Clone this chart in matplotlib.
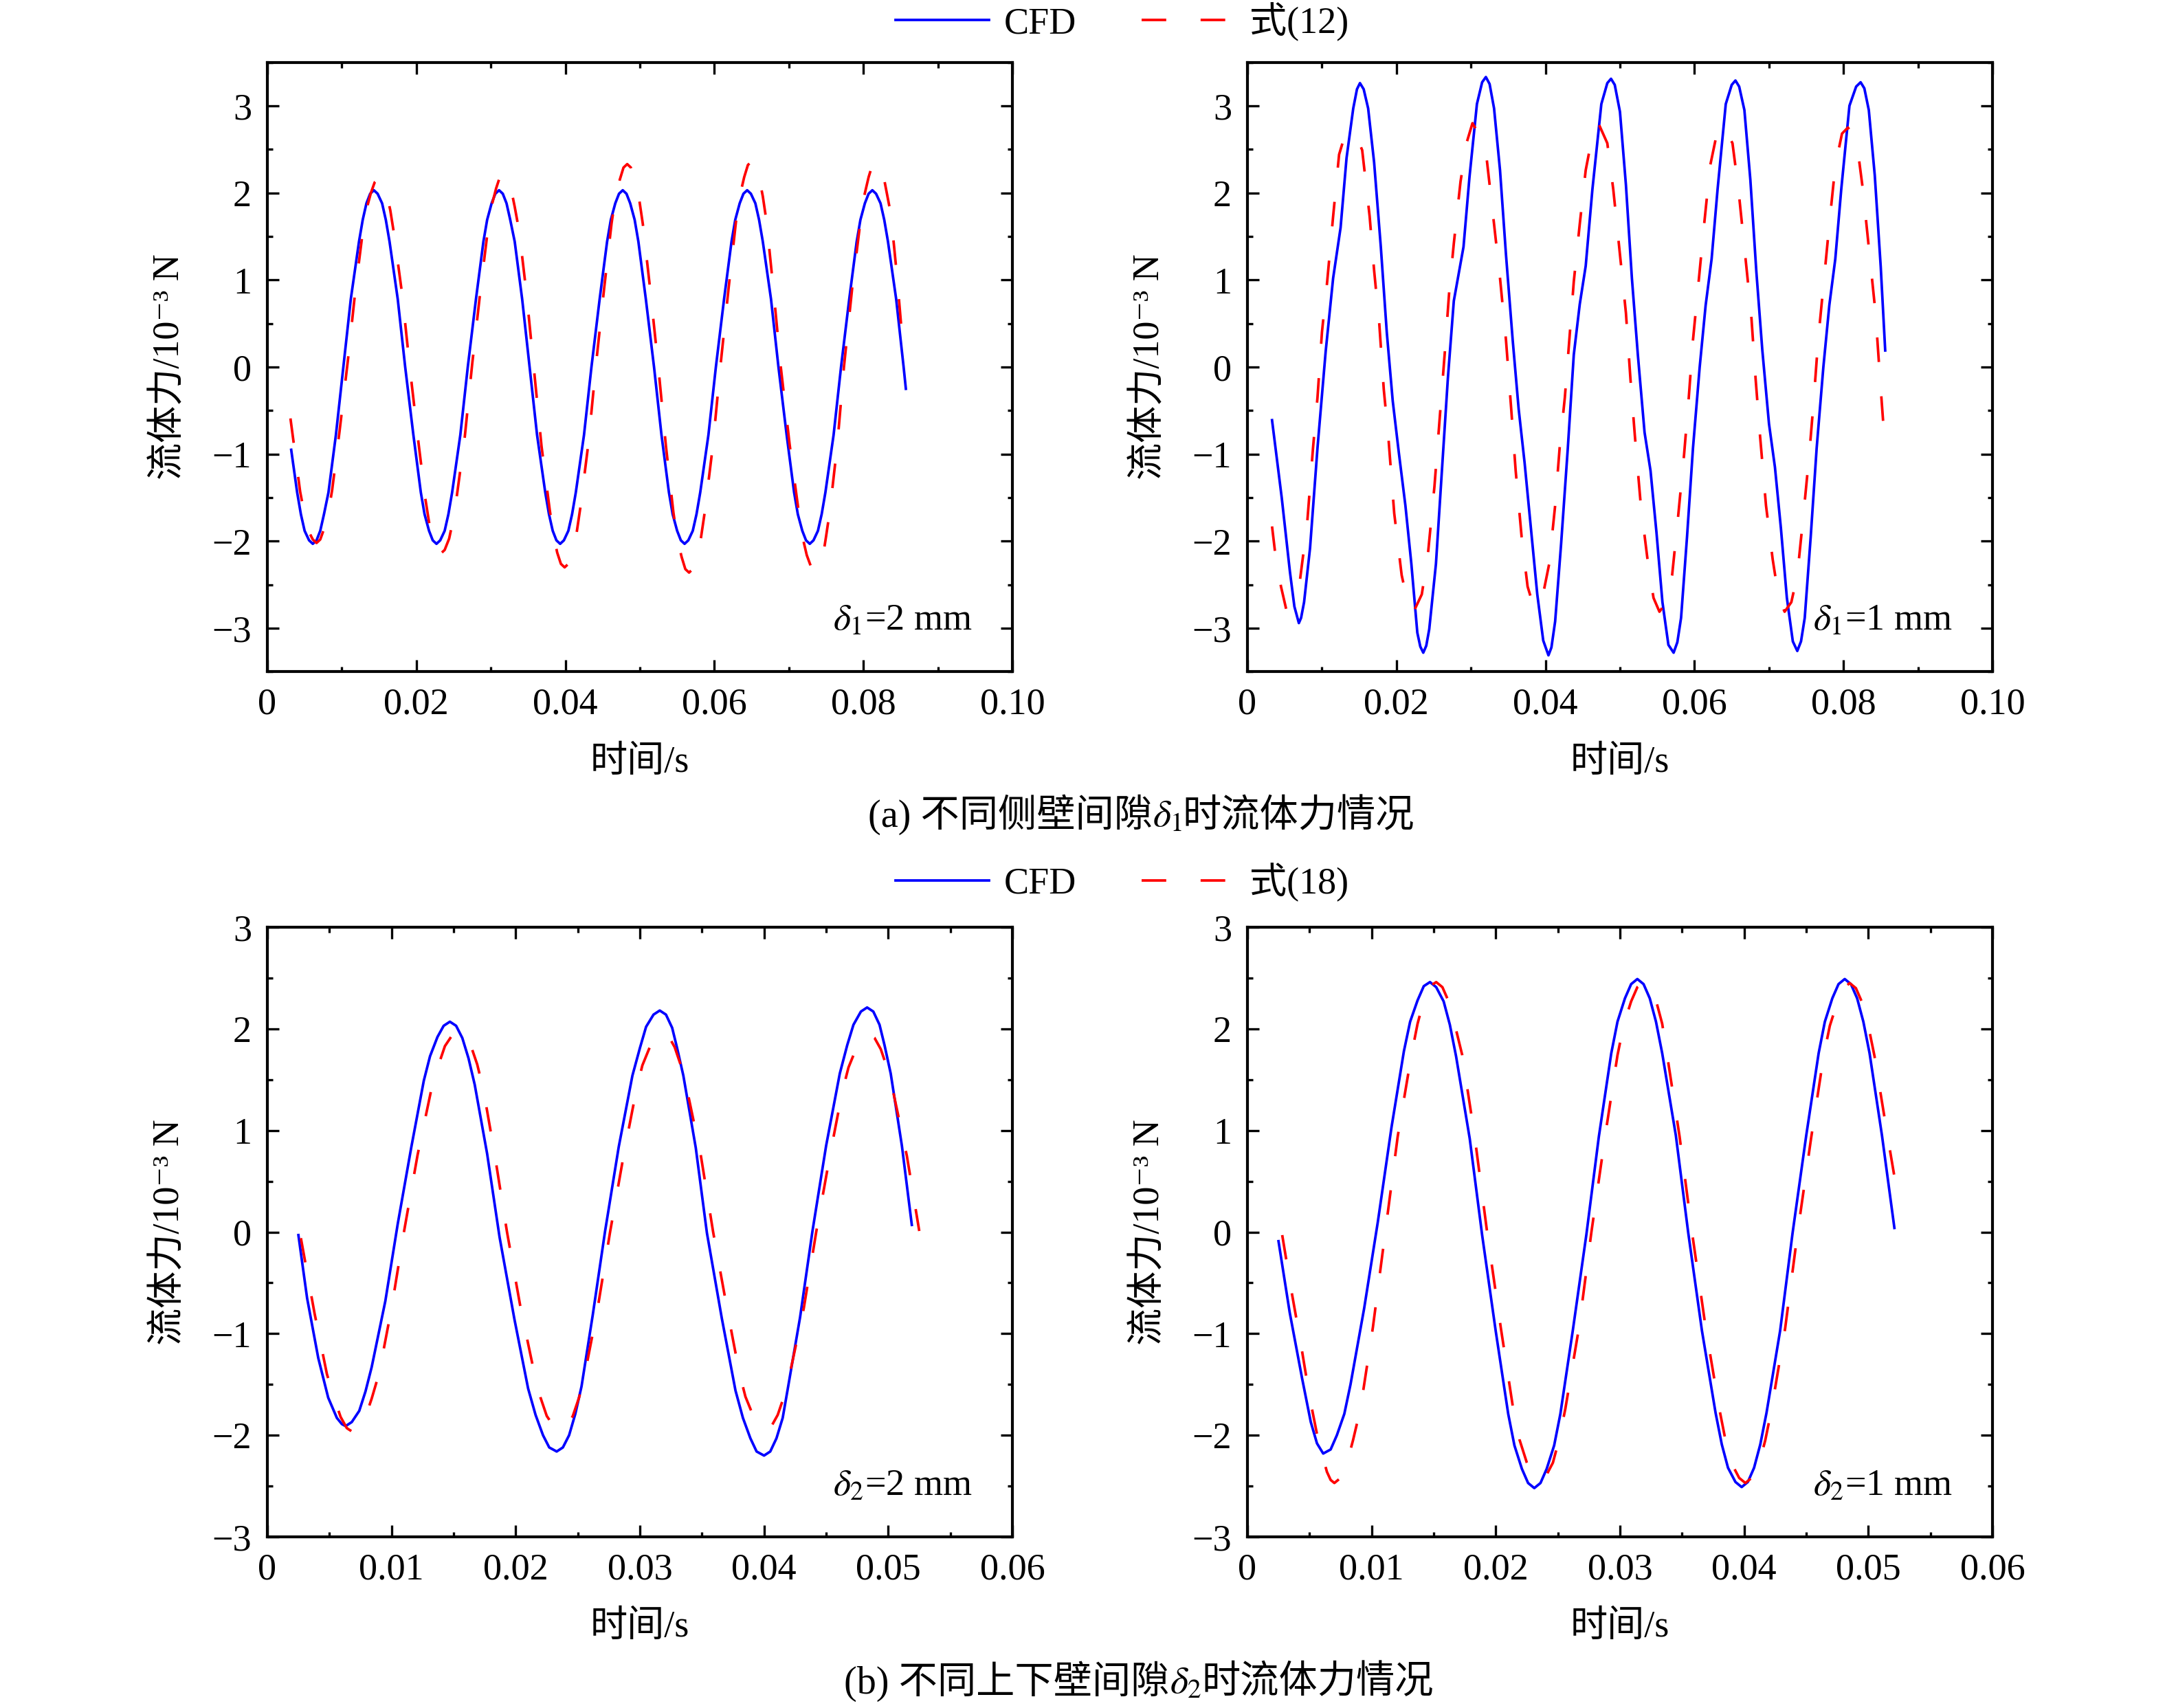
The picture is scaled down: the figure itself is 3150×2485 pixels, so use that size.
import matplotlib
matplotlib.use("Agg")
import matplotlib.pyplot as plt
from matplotlib.ticker import MultipleLocator, FuncFormatter
from matplotlib.offsetbox import TextArea, HPacker, AnchoredOffsetbox

plt.rcParams['font.family'] = ['Liberation Serif', 'DejaVu Serif', 'Noto Sans CJK SC']
plt.rcParams['mathtext.fontset'] = 'stix'
plt.rcParams['lines.scale_dashes'] = False
plt.rcParams['axes.linewidth'] = 1.0

# ---------------- (a) delta1 = 2 mm ----------------
t_a2_cfd = [0.0032, 0.0040, 0.0045, 0.0050, 0.0056,
            0.0061, 0.0066, 0.0071, 0.0076, 0.0082, 0.0092, 0.0102, 0.0112, 0.0123, 0.0128, 0.0133, 0.0138,
            0.0143, 0.0148, 0.0154, 0.0159, 0.0164, 0.0175, 0.0185, 0.0196, 0.0206, 0.0211, 0.0217, 0.0222,
            0.0227, 0.0232, 0.0238, 0.0243, 0.0248, 0.0259, 0.0269, 0.0280, 0.0290, 0.0295, 0.0301, 0.0306,
            0.0311, 0.0316, 0.0321, 0.0326, 0.0332, 0.0342, 0.0352, 0.0362, 0.0373, 0.0378, 0.0383, 0.0388,
            0.0393, 0.0398, 0.0404, 0.0409, 0.0414, 0.0425, 0.0435, 0.0446, 0.0456, 0.0461, 0.0467, 0.0472,
            0.0477, 0.0482, 0.0487, 0.0493, 0.0498, 0.0508, 0.0519, 0.0529, 0.0539, 0.0544, 0.0550, 0.0555,
            0.0560, 0.0565, 0.0571, 0.0576, 0.0581, 0.0592, 0.0602, 0.0613, 0.0623, 0.0628, 0.0634, 0.0639,
            0.0644, 0.0649, 0.0655, 0.0660, 0.0665, 0.0676, 0.0686, 0.0697, 0.0707, 0.0712, 0.0718, 0.0723,
            0.0728, 0.0733, 0.0739, 0.0744, 0.0749, 0.0760, 0.0770, 0.0781, 0.0791, 0.0796, 0.0802, 0.0807,
            0.0812, 0.0817, 0.0823, 0.0828, 0.0833, 0.0844, 0.0854, 0.0857]
f_a2_cfd = [-0.95, -1.44, -1.69, -1.88, -1.99,
            -2.03, -1.99, -1.88, -1.69, -1.44, -0.78, 0.00, 0.78, 1.44, 1.69, 1.88, 1.99,
            2.03, 1.99, 1.88, 1.69, 1.44, 0.78, 0.00, -0.78, -1.44, -1.69, -1.88, -1.99,
            -2.03, -1.99, -1.88, -1.69, -1.44, -0.78, 0.00, 0.78, 1.44, 1.69, 1.88, 1.99,
            2.03, 1.99, 1.88, 1.69, 1.44, 0.78, 0.00, -0.78, -1.44, -1.69, -1.88, -1.99,
            -2.03, -1.99, -1.88, -1.69, -1.44, -0.78, 0.00, 0.78, 1.44, 1.69, 1.88, 1.99,
            2.03, 1.99, 1.88, 1.69, 1.44, 0.78, 0.00, -0.78, -1.44, -1.69, -1.88, -1.99,
            -2.03, -1.99, -1.88, -1.69, -1.44, -0.78, 0.00, 0.78, 1.44, 1.69, 1.88, 1.99,
            2.03, 1.99, 1.88, 1.69, 1.44, 0.78, 0.00, -0.78, -1.44, -1.69, -1.88, -1.99,
            -2.03, -1.99, -1.88, -1.69, -1.44, -0.78, 0.00, 0.78, 1.44, 1.69, 1.88, 1.99,
            2.03, 1.99, 1.88, 1.69, 1.44, 0.78, 0.00, -0.25]

t_a2_eq = [0.0031, 0.0044, 0.0050, 0.0055, 0.0061,
           0.0066, 0.0071, 0.0076, 0.0082, 0.0087, 0.0097, 0.0108, 0.0118, 0.0128, 0.0133, 0.0139, 0.0144,
           0.0149, 0.0154, 0.0160, 0.0165, 0.0170, 0.0181, 0.0191, 0.0202, 0.0212, 0.0217, 0.0223, 0.0228,
           0.0233, 0.0238, 0.0244, 0.0249, 0.0254, 0.0265, 0.0275, 0.0286, 0.0296, 0.0301, 0.0307, 0.0312,
           0.0317, 0.0322, 0.0327, 0.0332, 0.0338, 0.0348, 0.0358, 0.0368, 0.0379, 0.0384, 0.0389, 0.0394,
           0.0399, 0.0404, 0.0410, 0.0415, 0.0420, 0.0431, 0.0441, 0.0452, 0.0462, 0.0467, 0.0473, 0.0478,
           0.0483, 0.0488, 0.0493, 0.0499, 0.0504, 0.0514, 0.0525, 0.0535, 0.0545, 0.0550, 0.0556, 0.0561,
           0.0566, 0.0571, 0.0577, 0.0582, 0.0587, 0.0598, 0.0608, 0.0619, 0.0629, 0.0634, 0.0640, 0.0645,
           0.0650, 0.0655, 0.0660, 0.0665, 0.0670, 0.0679, 0.0689, 0.0701, 0.0713, 0.0718, 0.0724, 0.0730,
           0.0736, 0.0741, 0.0746, 0.0750, 0.0755, 0.0765, 0.0774, 0.0785, 0.0796, 0.0801, 0.0807, 0.0812,
           0.0818, 0.0823, 0.0828, 0.0837, 0.0845, 0.0852]
f_a2_eq = [-0.59, -1.43, -1.70, -1.88, -1.98,
           -2.02, -1.98, -1.86, -1.67, -1.41, -0.73, 0.07, 0.87, 1.55, 1.81, 2.00, 2.12,
           2.16, 2.12, 2.00, 1.80, 1.53, 0.83, 0.01, -0.81, -1.51, -1.78, -1.98, -2.10,
           -2.14, -2.10, -1.97, -1.77, -1.50, -0.80, 0.04, 0.88, 1.58, 1.85, 2.05, 2.18,
           2.22, 2.18, 2.05, 1.84, 1.56, 0.83, -0.04, -0.91, -1.64, -1.92, -2.13, -2.26,
           -2.30, -2.26, -2.12, -1.91, -1.62, -0.87, 0.02, 0.90, 1.65, 1.94, 2.15, 2.29,
           2.33, 2.29, 2.15, 1.93, 1.64, 0.88, -0.02, -0.91, -1.67, -1.96, -2.18, -2.32,
           -2.36, -2.32, -2.18, -1.96, -1.67, -0.90, 0.00, 0.90, 1.67, 1.96, 2.18, 2.32,
           2.36, 2.32, 2.18, 1.96, 1.67, 0.91, 0.01, -0.89, -1.65, -1.94, -2.16, -2.30,
           -2.34, -2.30, -2.16, -1.94, -1.65, -0.89, 0.01, 0.91, 1.67, 1.96, 2.18, 2.32,
           2.36, 2.30, 2.15, 1.75, 1.05, 0.35]

# ---------------- (a) delta1 = 1 mm ----------------
t_a1_cfd = [0.0033, 0.0046, 0.0057, 0.0063, 0.0069, 0.0072, 0.0076, 0.0084,
            0.0094, 0.0105, 0.0115, 0.0125, 0.0133, 0.0142, 0.0147, 0.0151,
            0.0156, 0.0162, 0.0170, 0.0179, 0.0187, 0.0195, 0.0203, 0.0212,
            0.0220, 0.0228, 0.0232, 0.0236, 0.0240, 0.0244, 0.0253, 0.0261,
            0.0269, 0.0277, 0.0290, 0.0298, 0.0308, 0.0315, 0.0320, 0.0325,
            0.0331, 0.0339, 0.0347, 0.0356, 0.0364, 0.0372, 0.0380, 0.0389,
            0.0397, 0.0404, 0.0408, 0.0413, 0.0421, 0.0430, 0.0438, 0.0446,
            0.0454, 0.0463, 0.0475, 0.0483, 0.0488, 0.0493, 0.0500, 0.0508,
            0.0516, 0.0524, 0.0533, 0.0541, 0.0549, 0.0557, 0.0565, 0.0572,
            0.0577, 0.0582, 0.0590, 0.0598, 0.0607, 0.0615, 0.0623, 0.0631,
            0.0642, 0.0650, 0.0655, 0.0660, 0.0667, 0.0675, 0.0683, 0.0691,
            0.0700, 0.0708, 0.0716, 0.0724, 0.0732, 0.0738, 0.0743, 0.0748,
            0.0756, 0.0764, 0.0773, 0.0781, 0.0789, 0.0797, 0.0808, 0.0817,
            0.0823, 0.0828, 0.0834, 0.0842, 0.0850, 0.0856]
f_a1_cfd = [-0.61, -1.50, -2.35, -2.75, -2.94, -2.88, -2.70, -2.08,
            -0.93, 0.18, 1.02, 1.60, 2.40, 2.97, 3.19, 3.26,
            3.19, 2.97, 2.35, 1.38, 0.40, -0.39, -0.97, -1.59,
            -2.26, -3.05, -3.21, -3.28, -3.20, -3.01, -2.26, -1.19,
            -0.13, 0.76, 1.38, 2.18, 3.02, 3.27, 3.33, 3.25,
            2.97, 2.26, 1.29, 0.31, -0.48, -1.10, -1.81, -2.61,
            -3.14, -3.31, -3.22, -2.92, -2.03, -0.93, 0.14, 0.72,
            1.16, 2.04, 3.02, 3.26, 3.31, 3.24, 2.93, 2.09,
            1.02, 0.14, -0.75, -1.19, -1.90, -2.70, -3.19, -3.28,
            -3.16, -2.88, -1.95, -0.93, 0.00, 0.71, 1.24, 2.04,
            3.02, 3.24, 3.29, 3.22, 2.95, 2.15, 1.10, 0.20,
            -0.65, -1.15, -1.85, -2.65, -3.15, -3.26, -3.15, -2.88,
            -1.95, -0.93, 0.00, 0.71, 1.24, 2.04, 3.00, 3.22,
            3.27, 3.20, 2.95, 2.20, 1.15, 0.19]

t_a1_eq = [0.0033, 0.0037, 0.0045, 0.0052, 0.0060, 0.0070, 0.0080, 0.0088,
           0.0094, 0.0100, 0.0107, 0.0115, 0.0123, 0.0130, 0.0138, 0.0146,
           0.0154, 0.0164, 0.0170, 0.0177, 0.0183, 0.0189, 0.0197, 0.0207,
           0.0215, 0.0223, 0.0234, 0.0242, 0.0251, 0.0259, 0.0265, 0.0271,
           0.0277, 0.0286, 0.0294, 0.0302, 0.0312, 0.0321, 0.0331, 0.0339,
           0.0347, 0.0354, 0.0360, 0.0368, 0.0376, 0.0383, 0.0389, 0.0397,
           0.0405, 0.0413, 0.0419, 0.0426, 0.0432, 0.0438, 0.0446, 0.0454,
           0.0463, 0.0471, 0.0483, 0.0491, 0.0500, 0.0508, 0.0514, 0.0520,
           0.0528, 0.0537, 0.0545, 0.0553, 0.0562, 0.0570, 0.0578, 0.0586,
           0.0592, 0.0598, 0.0605, 0.0613, 0.0621, 0.0630, 0.0639, 0.0651,
           0.0659, 0.0668, 0.0676, 0.0682, 0.0688, 0.0696, 0.0705, 0.0713,
           0.0721, 0.0730, 0.0738, 0.0746, 0.0754, 0.0760, 0.0766, 0.0773,
           0.0781, 0.0789, 0.0798, 0.0806, 0.0818, 0.0826, 0.0835, 0.0843,
           0.0849, 0.0856]
f_a1_eq = [-1.83, -2.12, -2.52, -2.78, -2.70, -2.48, -1.81, -0.93,
           -0.35, 0.40, 0.98, 1.73, 2.44, 2.64, 2.70, 2.66,
           2.49, 1.73, 1.11, 0.49, -0.26, -0.79, -1.68, -2.39,
           -2.70, -2.81, -2.61, -2.17, -1.37, -0.48, 0.18, 0.89,
           1.42, 2.13, 2.57, 2.80, 2.65, 2.40, 1.64, 1.02,
           0.31, -0.48, -1.19, -1.95, -2.52, -2.72, -2.76, -2.60,
           -2.26, -1.59, -0.93, -0.35, 0.31, 0.98, 1.64, 2.26,
           2.66, 2.80, 2.57, 2.04, 1.29, 0.62, -0.13, -0.79,
           -1.59, -2.21, -2.65, -2.81, -2.70, -2.39, -1.72, -1.01,
           -0.39, 0.31, 0.93, 1.64, 2.31, 2.68, 2.77, 2.57,
           2.04, 1.29, 0.62, -0.13, -0.79, -1.59, -2.21, -2.65,
           -2.81, -2.70, -2.39, -1.72, -1.01, -0.39, 0.31, 0.93,
           1.64, 2.31, 2.68, 2.75, 2.57, 2.04, 1.29, 0.62,
           -0.13, -0.95]

# ---------------- (b) delta2 = 2 mm ----------------
t_b2_cfd = [0.0025, 0.0032, 0.0041, 0.0049, 0.0056, 0.0060,
            0.0063, 0.0068, 0.0074, 0.0079, 0.0084, 0.0095, 0.0105, 0.0116, 0.0126, 0.0131, 0.0137, 0.0142,
            0.0147, 0.0152, 0.0157, 0.0162, 0.0167, 0.0177, 0.0187, 0.0199, 0.0210, 0.0216, 0.0222, 0.0227,
            0.0233, 0.0238, 0.0243, 0.0248, 0.0253, 0.0262, 0.0272, 0.0283, 0.0294, 0.0300, 0.0305, 0.0311,
            0.0316, 0.0321, 0.0326, 0.0330, 0.0335, 0.0345, 0.0354, 0.0366, 0.0377, 0.0383, 0.0389, 0.0394,
            0.0400, 0.0405, 0.0410, 0.0415, 0.0419, 0.0429, 0.0439, 0.0450, 0.0461, 0.0467, 0.0472, 0.0478,
            0.0483, 0.0488, 0.0493, 0.0497, 0.0502, 0.0511, 0.0519]
f_b2_cfd = [-0.03, -0.65, -1.24, -1.63, -1.83, -1.89,
            -1.91, -1.87, -1.76, -1.57, -1.33, -0.68, 0.08, 0.84, 1.49, 1.73, 1.92, 2.03,
            2.07, 2.03, 1.91, 1.71, 1.45, 0.77, -0.05, -0.86, -1.54, -1.80, -2.00, -2.12,
            -2.16, -2.12, -2.00, -1.79, -1.52, -0.82, 0.01, 0.84, 1.54, 1.81, 2.02, 2.14,
            2.18, 2.14, 2.01, 1.81, 1.54, 0.83, -0.01, -0.85, -1.56, -1.83, -2.03, -2.16,
            -2.20, -2.16, -2.03, -1.83, -1.55, -0.84, 0.01, 0.85, 1.56, 1.84, 2.04, 2.17,
            2.21, 2.17, 2.04, 1.84, 1.56, 0.85, 0.07]

t_b2_eq = [0.0027, 0.0038, 0.0048, 0.0054, 0.0059, 0.0064,
           0.0069, 0.0074, 0.0079, 0.0084, 0.0090, 0.0100, 0.0110, 0.0121, 0.0132, 0.0138, 0.0143, 0.0149,
           0.0154, 0.0159, 0.0164, 0.0169, 0.0174, 0.0183, 0.0193, 0.0204, 0.0215, 0.0220, 0.0225, 0.0231,
           0.0236, 0.0241, 0.0246, 0.0251, 0.0256, 0.0266, 0.0276, 0.0287, 0.0297, 0.0302, 0.0308, 0.0313,
           0.0318, 0.0323, 0.0328, 0.0333, 0.0338, 0.0349, 0.0359, 0.0370, 0.0380, 0.0385, 0.0391, 0.0396,
           0.0401, 0.0406, 0.0411, 0.0416, 0.0421, 0.0432, 0.0442, 0.0453, 0.0463, 0.0468, 0.0474, 0.0479,
           0.0484, 0.0489, 0.0494, 0.0499, 0.0504, 0.0515, 0.0525]
f_b2_eq = [-0.06, -0.80, -1.40, -1.64, -1.82, -1.93,
           -1.97, -1.93, -1.82, -1.64, -1.39, -0.75, 0.00, 0.76, 1.40, 1.65, 1.83, 1.94,
           1.98, 1.94, 1.83, 1.65, 1.40, 0.77, 0.00, -0.75, -1.39, -1.63, -1.81, -1.92,
           -1.96, -1.92, -1.81, -1.63, -1.38, -0.75, 0.00, 0.76, 1.39, 1.64, 1.82, 1.93,
           1.97, 1.93, 1.82, 1.64, 1.40, 0.76, 0.00, -0.74, -1.38, -1.62, -1.80, -1.91,
           -1.95, -1.91, -1.80, -1.62, -1.38, -0.75, 0.00, 0.75, 1.38, 1.62, 1.80, 1.91,
           1.95, 1.91, 1.80, 1.62, 1.38, 0.75, 0.01]

# ---------------- (b) delta2 = 1 mm ----------------
t_b1_cfd = [0.0025, 0.0034, 0.0044, 0.0051, 0.0056,
            0.0061, 0.0067, 0.0072, 0.0078, 0.0083, 0.0094, 0.0105, 0.0116, 0.0126, 0.0131, 0.0137, 0.0142,
            0.0147, 0.0152, 0.0158, 0.0163, 0.0168, 0.0179, 0.0189, 0.0200, 0.0210, 0.0215, 0.0221, 0.0226,
            0.0231, 0.0236, 0.0241, 0.0247, 0.0252, 0.0262, 0.0273, 0.0283, 0.0293, 0.0298, 0.0304, 0.0309,
            0.0314, 0.0319, 0.0324, 0.0329, 0.0334, 0.0345, 0.0355, 0.0366, 0.0377, 0.0382, 0.0387, 0.0393,
            0.0398, 0.0403, 0.0408, 0.0413, 0.0418, 0.0429, 0.0439, 0.0450, 0.0460, 0.0465, 0.0471, 0.0476,
            0.0481, 0.0486, 0.0491, 0.0496, 0.0501, 0.0511, 0.0521]
f_b1_cfd = [-0.09, -0.79, -1.44, -1.87, -2.08,
            -2.18, -2.14, -2.00, -1.79, -1.50, -0.75, 0.10, 1.03, 1.78, 2.07, 2.28, 2.42,
            2.46, 2.41, 2.27, 2.04, 1.73, 0.92, -0.03, -0.98, -1.79, -2.10, -2.33, -2.47,
            -2.52, -2.47, -2.33, -2.10, -1.79, -0.97, -0.02, 0.94, 1.76, 2.07, 2.30, 2.44,
            2.49, 2.44, 2.30, 2.07, 1.76, 0.95, -0.01, -0.97, -1.78, -2.09, -2.32, -2.46,
            -2.51, -2.46, -2.32, -2.09, -1.78, -0.97, -0.01, 0.95, 1.76, 2.07, 2.30, 2.44,
            2.49, 2.44, 2.30, 2.07, 1.76, 0.95, 0.04]

t_b1_eq = [0.0028, 0.0035, 0.0043, 0.0050, 0.0057, 0.0064, 0.0067,
           0.0070, 0.0075, 0.0080, 0.0085, 0.0091, 0.0101, 0.0111, 0.0121, 0.0132, 0.0137, 0.0142, 0.0147,
           0.0152, 0.0157, 0.0162, 0.0167, 0.0173, 0.0183, 0.0193, 0.0204, 0.0214, 0.0219, 0.0225, 0.0230,
           0.0235, 0.0240, 0.0246, 0.0251, 0.0256, 0.0267, 0.0277, 0.0288, 0.0298, 0.0303, 0.0309, 0.0314,
           0.0319, 0.0324, 0.0329, 0.0334, 0.0338, 0.0348, 0.0358, 0.0369, 0.0380, 0.0385, 0.0390, 0.0396,
           0.0401, 0.0406, 0.0412, 0.0417, 0.0422, 0.0433, 0.0443, 0.0454, 0.0464, 0.0469, 0.0475, 0.0480,
           0.0485, 0.0490, 0.0495, 0.0500, 0.0505, 0.0515, 0.0524]
f_b1_eq = [-0.03, -0.55, -1.10, -1.62, -2.05, -2.36, -2.44,
           -2.47, -2.42, -2.28, -2.05, -1.74, -0.94, 0.00, 0.94, 1.74, 2.05, 2.28, 2.42,
           2.46, 2.41, 2.27, 2.04, 1.74, 0.94, 0.00, -0.94, -1.74, -2.04, -2.27, -2.41,
           -2.45, -2.41, -2.27, -2.04, -1.74, -0.94, 0.00, 0.94, 1.74, 2.04, 2.27, 2.41,
           2.46, 2.42, 2.28, 2.05, 1.74, 0.94, 0.00, -0.94, -1.74, -2.05, -2.28, -2.42,
           -2.47, -2.42, -2.28, -2.05, -1.75, -0.95, -0.01, 0.93, 1.73, 2.03, 2.26, 2.40,
           2.45, 2.40, 2.26, 2.03, 1.73, 0.98, 0.33]

FS = 13
DASH = (8.6, 12.0)
BLUE = '#0000ff'
RED = '#ff0000'
FONTS = ['Liberation Serif', 'DejaVu Serif', 'Noto Sans CJK SC']

fig = plt.figure(figsize=(10.5, 2485 / 300), dpi=300)

W = 0.34413
H = 0.35694
panels = [
    ([0.12349, 0.60664, W, H], t_a2_cfd, f_a2_cfd, t_a2_eq, f_a2_eq, 'top', r'$\delta_1$=2 mm'),
    ([0.57619, 0.60664, W, H], t_a1_cfd, f_a1_cfd, t_a1_eq, f_a1_eq, 'top', r'$\delta_1$=1 mm'),
    ([0.12349, 0.10020, W, H], t_b2_cfd, f_b2_cfd, t_b2_eq, f_b2_eq, 'bottom', r'$\delta_2$=2 mm'),
    ([0.57619, 0.10020, W, H], t_b1_cfd, f_b1_cfd, t_b1_eq, f_b1_eq, 'bottom', r'$\delta_2$=1 mm'),
]


def xfmt(v, pos):
    if abs(v) < 1e-9:
        return '0'
    return '%.2f' % v


def yfmt(v, pos):
    return str(int(round(v))).replace('-', '\u2212')


handles = {}
for rect, tc, fc, te, fe, row, note in panels:
    ax = fig.add_axes(rect)
    l1, = ax.plot(tc, fc, color=BLUE, lw=0.9)
    l2, = ax.plot(te, fe, color=RED, lw=0.9, dashes=DASH)
    handles[row] = (l1, l2)
    if row == 'top':
        ax.set_xlim(0, 0.10)
        ax.set_ylim(-3.5, 3.5)
        ax.xaxis.set_major_locator(MultipleLocator(0.02))
        ax.xaxis.set_minor_locator(MultipleLocator(0.01))
    else:
        ax.set_xlim(0, 0.06)
        ax.set_ylim(-3, 3)
        ax.xaxis.set_major_locator(MultipleLocator(0.01))
        ax.xaxis.set_minor_locator(MultipleLocator(0.005))
    ax.yaxis.set_major_locator(MultipleLocator(1))
    ax.yaxis.set_minor_locator(MultipleLocator(0.5))
    ax.xaxis.set_major_formatter(FuncFormatter(xfmt))
    ax.yaxis.set_major_formatter(FuncFormatter(yfmt))
    ax.tick_params(which='both', direction='in', top=True, right=True, width=0.8,
                   labelsize=FS)
    ax.tick_params(which='major', length=4)
    ax.tick_params(which='minor', length=1.8)
    ax.tick_params(axis='x', pad=5.5)
    ax.tick_params(axis='y', pad=5.5)
    ax.set_xlabel('时间/s', fontsize=FS, va='center')
    ax.xaxis.set_label_coords(0.5, -0.149)
    ax.set_ylabel('流体力/10\u207b\u00b3 N', fontsize=FS, va='center')
    ax.yaxis.set_label_coords(-0.1305, 0.5)
    ax.text(0.9465, 0.068, note, transform=ax.transAxes, ha='right',
            va='baseline', fontsize=FS)

leg_kw = dict(loc='center', ncol=2, frameon=False, fontsize=FS, handlelength=2.5,
              handletextpad=0.4, columnspacing=1.75, borderpad=0, borderaxespad=0)
fig.legend(handles['top'], ['CFD', '式(12)'], bbox_to_anchor=(0.5183, 0.9871), **leg_kw)
fig.legend(handles['bottom'], ['CFD', '式(18)'], bbox_to_anchor=(0.5183, 0.4835), **leg_kw)


def caption(parts, x, y):
    props = dict(fontsize=13.5, family=FONTS)
    boxes = [TextArea(p, textprops=props) for p in parts]
    pack = HPacker(children=boxes, align='baseline', pad=0, sep=0)
    box = AnchoredOffsetbox(loc='center', child=pack, pad=0, borderpad=0, frameon=False,
                            bbox_to_anchor=(x, y), bbox_transform=fig.transFigure)
    fig.add_artist(box)


caption(['(a) 不同侧壁间隙', r'$\delta_1$', '时流体力情况'], 0.527, 0.5231)
caption(['(b) 不同上下壁间隙', r'$\delta_2$', '时流体力情况'], 0.526, 0.0157)

fig.savefig('out.png', dpi=300)
